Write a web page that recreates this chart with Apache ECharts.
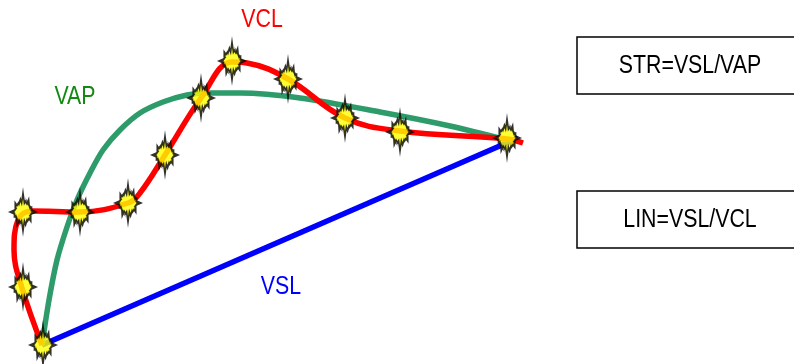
<!DOCTYPE html>
<html><head><meta charset="utf-8">
<script src="https://cdn.jsdelivr.net/npm/echarts@6/dist/echarts.min.js"></script>
<style>html,body{margin:0;padding:0;background:#fff}#c{width:794px;height:364px}</style>
</head><body><div id="c"></div>
<script>
// Trajectory diagram data (positions in plot units)
const vclPath = [[42,345],[22,288],[14,250],[18,220],[32,211],[80,212],[128,203],[140,193],[165,155],[201,98],[232,62],[247,63],[288,79],[345,118],[400,131],[507,139],[523,143]];
const vapPath = [[42,345],[49,300],[57,260],[67,227],[77,200],[90,173],[103,150],[120,130],[140,113],[163,102],[187,95],[207,93],[240,93],[300,98],[380,112],[450,126],[507,140]];
const vslPath = [[42,345],[518,138]];
const framePoints = [[43,345],[23,287],[23,212],[80,212],[128,203],[165,155],[201,98],[232,61],[288,79],[345,118],[400,132],[507,138]];
const curveLabels = [{name:'VCL',x:262,y:20,color:'#ff0000'},{name:'VAP',x:75,y:97,color:'#128a12'},{name:'VSL',x:281,y:287,color:'#0000ff'}];
const formulas = ['STR=VSL/VAP','LIN=VSL/VCL'];

// star burst symbol (drawn in a 22x38 box)
function starPath(){
  const W=11,H=19;
  const f=[1,.6,.8,.62,.75,1,.62,.8,.6,.7,1,.6,.82,.62,.75,1,.62,.8,.6,.7];
  const n=f.length; let d='';
  for(let i=0;i<n;i++){
    const a=-Math.PI/2 + i*2*Math.PI/n;
    const a2=a+Math.PI/n;
    const x1=W+W*f[i]*Math.cos(a), y1=H+H*f[i]*Math.sin(a);
    const x2=W+8*Math.cos(a2), y2=H+9.2*Math.sin(a2);
    d+=(i===0?'M':'L')+x1.toFixed(2)+' '+y1.toFixed(2)+' L'+x2.toFixed(2)+' '+y2.toFixed(2)+' ';
  }
  return 'path://'+d+'Z';
}
const FONT = '"Liberation Sans",Arial,sans-serif';
const chart = echarts.init(document.getElementById('c'));
const graphics = [];
curveLabels.forEach(l=>graphics.push({type:'text',x:l.x,y:l.y,scaleX:0.82,style:{text:l.name,fill:l.color,font:'26px '+FONT,textAlign:'center',textVerticalAlign:'middle'}}));
[[577,37],[577,191]].forEach((p,i)=>{
  graphics.push({type:'rect',shape:{x:p[0],y:p[1],width:240,height:57},style:{fill:'#fff',stroke:'#000',lineWidth:1.5}});
  graphics.push({type:'text',x:690,y:p[1]+28.5,scaleX:0.82,style:{text:formulas[i],fill:'#000',font:'26px '+FONT,textAlign:'center',textVerticalAlign:'middle'}});
});
chart.setOption({
  animation:false,
  grid:{left:0,right:0,top:0,bottom:0},
  xAxis:{type:'value',min:0,max:794,show:false},
  yAxis:{type:'value',min:0,max:364,inverse:true,show:false},
  graphic:graphics,
  series:[
    {type:'line',data:vslPath,symbol:'none',lineStyle:{color:'#0000ff',width:5.5},z:1},
    {type:'line',data:vapPath,symbol:'none',smooth:0.3,lineStyle:{color:'#2e9b6b',width:5.5},z:2},
    {type:'line',data:vclPath,symbol:'none',smooth:0.4,lineStyle:{color:'#ff0000',width:5.5},z:3},
    {type:'scatter',data:framePoints,symbol:starPath(),symbolSize:[24,38],itemStyle:{color:'#ffff00',borderColor:'#000',borderWidth:2},z:5}
  ]
});
</script></body></html>
